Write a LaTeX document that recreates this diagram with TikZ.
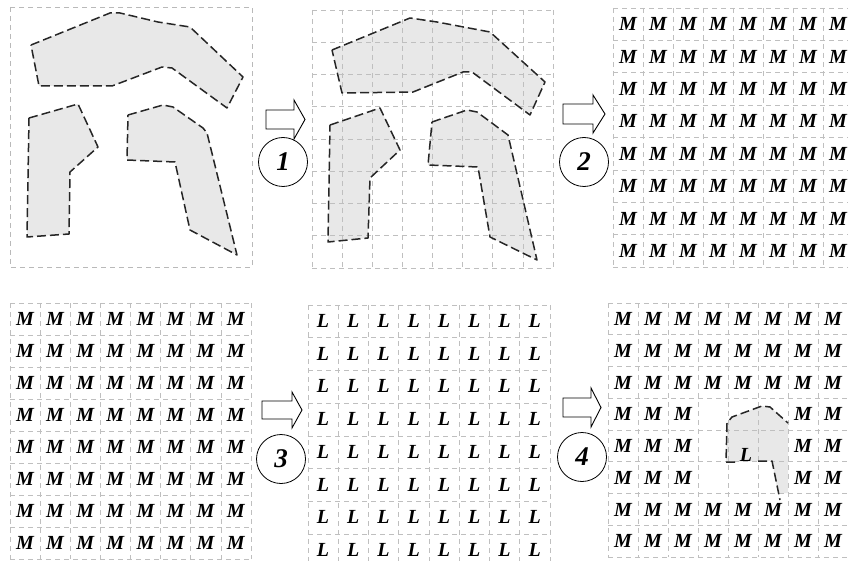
\documentclass[tikz,border=0pt]{standalone}
\usepackage{fontspec}
\setmainfont{Liberation Serif}
\tikzset{
  panelborder/.style={draw=gray!55, dash pattern=on 5pt off 4pt, line width=0.8pt},
  gridline/.style={draw=gray!50, dash pattern=on 5pt off 4pt, line width=0.7pt},
  blob/.style={fill=black!9},
  outline/.style={draw=black!85, dash pattern=on 9pt off 4pt, line width=1.5pt, line join=round},
  letter/.style={font=\fontsize{20}{20}\selectfont\bfseries\itshape, inner sep=0pt},
  stepcircle/.style={draw, circle, minimum size=49pt, line width=0.8pt, font=\fontsize{27}{27}\selectfont\bfseries\itshape, inner sep=0pt},
  blockarrow/.style={draw, fill=white, line width=0.9pt, line join=miter},
}
\newcommand\mygrid[4]{% x0 y0 w h
  \foreach \i in {0,...,8}{
    \draw[gridline] ({#1+\i*#3/8},#2) -- ++(0,#4);
    \draw[gridline] (#1,{#2+\i*#4/8}) -- ++(#3,0);
  }}
\begin{document}
\begin{tikzpicture}[x=1pt,y=-1pt]
\useasboundingbox (0,0) rectangle (848,561);
\clip (0,0) rectangle (848,561);

% ---------- panel 1 ----------
\fill[blob] (31,45)--(110,13)--(120,13)--(158,22)--(190,27)--(243,77)--(227,108)--(172,68)--(162,67)--(112,86)--(39,86)--cycle;
\fill[blob] (29,118)--(78,104)--(98,147)--(70,172)--(69,234)--(27,237)--cycle;
\fill[blob] (128,115)--(163,105)--(173,107)--(203,128)--(207,133)--(237,255)--(190,230)--(175,162)--(127,160)--cycle;
\draw[panelborder] (10,7) rectangle (252,267);
\draw[outline] (31,45)--(110,13)--(120,13)--(158,22)--(190,27)--(243,77)--(227,108)--(172,68)--(162,67)--(112,86)--(39,86)--cycle;
\draw[outline] (29,118)--(78,104)--(98,147)--(70,172)--(69,234)--(27,237)--cycle;
\draw[outline] (128,115)--(163,105)--(173,107)--(203,128)--(207,133)--(237,255)--(190,230)--(175,162)--(127,160)--cycle;

% ---------- panel 2 ----------
\fill[blob] (332,50)--(410,18)--(437,22)--(490,32)--(545,82)--(530,115)--(472,72)--(463,72)--(413,92)--(342,93)--cycle;
\fill[blob] (330,125)--(380,108)--(400,150)--(370,178)--(368,238)--(328,242)--cycle;
\fill[blob] (432,122)--(467,110)--(477,112)--(508,135)--(537,260)--(490,237)--(478,167)--(428,165)--cycle;
\mygrid{312}{10}{241}{258}
\draw[outline] (332,50)--(410,18)--(437,22)--(490,32)--(545,82)--(530,115)--(472,72)--(463,72)--(413,92)--(342,93)--cycle;
\draw[outline] (330,125)--(380,108)--(400,150)--(370,178)--(368,238)--(328,242)--cycle;
\draw[outline] (432,122)--(467,110)--(477,112)--(508,135)--(537,260)--(490,237)--(478,167)--(428,165)--cycle;

% ---------- panel 3 ----------
\mygrid{613}{8}{240}{259}
\foreach \r in {0,...,7}{\foreach \c in {0,...,7}{
  \node[letter] (pa-\r-\c) at ({628+30*\c},{24.2+32.4*\r}) {M};
}}

% ---------- panel 4 ----------
\mygrid{10}{303}{241}{256}
\foreach \r in {0,...,7}{\foreach \c in {0,...,7}{
  \node[letter] (pb-\r-\c) at ({25+30.1*\c},{319+32*\r}) {M};
}}

% ---------- panel 5 ----------
\mygrid{308}{305}{242}{262}
\foreach \r in {0,...,7}{\foreach \c in {0,...,7}{
  \node[letter] (pc-\r-\c) at ({323+30.25*\c},{321+32.7*\r}) {L};
}}

% ---------- panel 6 ----------
\fill[blob] (726,462)--(727,423)--(732,417)--(762,406)--(770,407)--(788,423)--(788,493)--(778,493)--(772,461)--cycle;
\mygrid{608}{303}{240}{254}
\foreach \r in {0,...,7}{\foreach \c in {0,...,7}{
  \pgfmathtruncatemacro\hole{and(and(\r>2,\r<6),and(\c>2,\c<6))}
  \ifnum\hole=0 \node[letter] (pd-\r-\c) at ({623+30*\c},{319+31.75*\r}) {M};\fi
}}
\node[letter] (pdL) at (746,455) {L};
\draw[outline] (735,462)--(726,462)--(727,423)--(732,417)--(762,406)--(770,407)--(788,423);
\draw[outline] (758,461)--(772,461)--(780,500);

% ---------- step arrows and circles ----------
\draw[blockarrow] (266,110)--(294,110)--(294,100)--(305,119.5)--(294,139)--(294,129)--(266,129)--cycle;
\node[stepcircle] (s1) at (283,162) {1};
\draw[blockarrow] (563,104)--(593,104)--(593,95)--(605,114)--(593,133)--(593,124)--(563,124)--cycle;
\node[stepcircle] (s2) at (584,162) {2};
\draw[blockarrow] (262,401)--(292,401)--(292,392)--(302,410)--(292,428)--(292,419)--(262,419)--cycle;
\node[stepcircle] (s3) at (281,459) {3};
\draw[blockarrow] (563,398)--(591,398)--(591,388)--(601,407.5)--(591,427)--(591,417)--(563,417)--cycle;
\node[stepcircle] (s4) at (582,457) {4};
\end{tikzpicture}
\end{document}
